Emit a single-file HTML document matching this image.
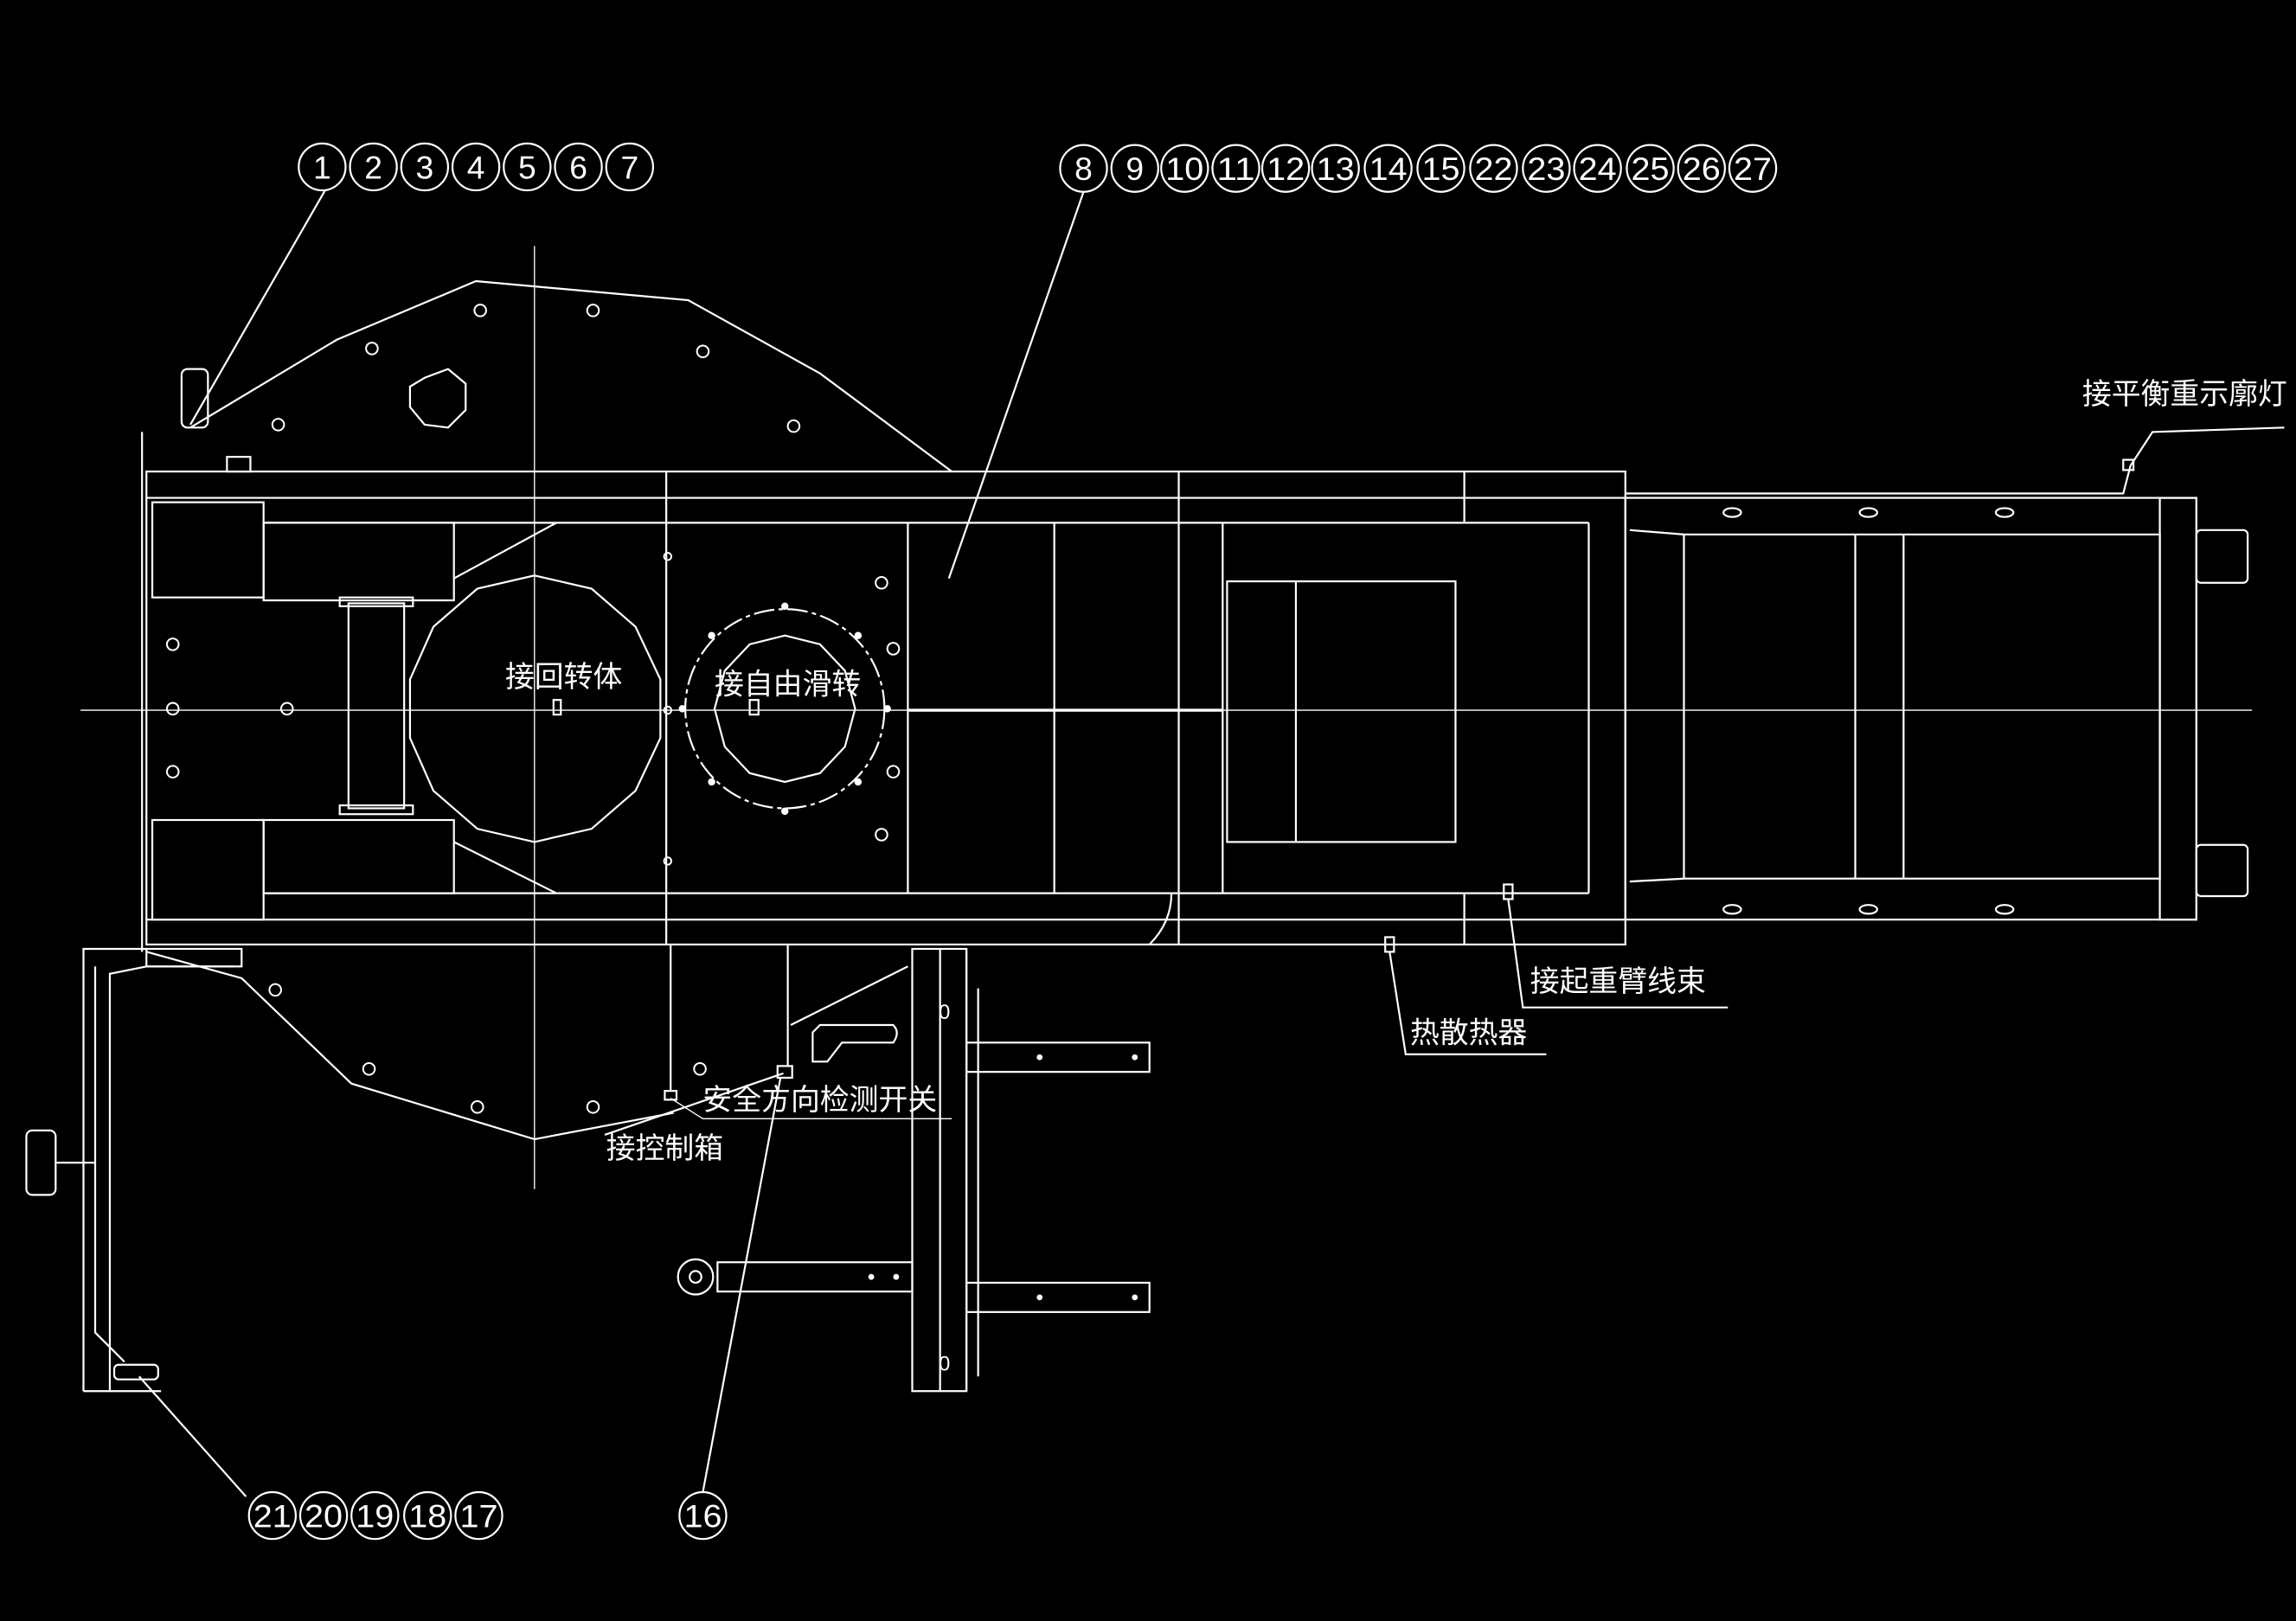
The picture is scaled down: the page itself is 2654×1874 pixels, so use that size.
<!DOCTYPE html>
<html><head><meta charset="utf-8">
<style>
html,body{margin:0;padding:0;background:#000;width:2654px;height:1874px;overflow:hidden}
svg{display:block}
text{font-family:"Liberation Sans","Noto Sans CJK SC",sans-serif;fill:#fff}
</style></head><body>
<svg width="2654" height="1874" viewBox="0 0 1568 1107" preserveAspectRatio="none" xmlns="http://www.w3.org/2000/svg">
<rect width="1568" height="1107" fill="#000"/>
<g fill="none" stroke="#fff" stroke-width="1.3">
<!-- center lines -->
<line x1="55" y1="485" x2="1538" y2="485" stroke-width="0.8"/>
<line x1="365" y1="168" x2="365" y2="812" stroke-width="0.8"/>
<!-- top plate -->
<polyline points="130,292 230,232 325,192 470,205 560,255 650,322"/>
<!-- bottom plate -->
<polyline points="100,650 165,668 240,740 365,778 460,760"/>
<!-- main frame -->
<rect x="100" y="322" width="1010" height="323"/>
<line x1="100" y1="340" x2="1110" y2="340"/>
<line x1="180" y1="357" x2="1085" y2="357"/>
<line x1="180" y1="610" x2="1085" y2="610"/>
<line x1="100" y1="628" x2="1110" y2="628"/>
<line x1="455" y1="322" x2="455" y2="645"/>
<line x1="620" y1="357" x2="620" y2="610"/>
<line x1="720" y1="357" x2="720" y2="610"/>
<line x1="805" y1="322" x2="805" y2="645"/>
<line x1="835" y1="357" x2="835" y2="610"/>
<line x1="1085" y1="357" x2="1085" y2="610"/>
<line x1="1000" y1="322" x2="1000" y2="357"/>
<line x1="1000" y1="610" x2="1000" y2="645"/>
<line x1="620" y1="485" x2="835" y2="485" stroke-width="2"/>
<!-- left blocks -->
<rect x="104" y="343" width="76" height="65"/>
<rect x="104" y="560" width="76" height="68"/>
<rect x="180" y="357" width="130" height="53"/>
<rect x="180" y="560" width="130" height="50"/>
<rect x="238" y="412" width="38" height="140"/>
<rect x="232" y="408" width="50" height="6"/>
<rect x="232" y="550" width="50" height="6"/>
<line x1="310" y1="395" x2="380" y2="357"/>
<line x1="310" y1="575" x2="380" y2="610"/>
<!-- big polygon -->
<polygon points="365,393 404,402 434,428 451,464 451,504 434,540 404,566 365,575 326,566 296,540 280,504 280,464 296,428 326,402"/>
<!-- hex/oct top -->
<polygon points="290,258 306,252 318,262 318,280 306,292 290,290 280,278 280,264"/>
<!-- swivel rings -->
<circle cx="536" cy="484" r="68" stroke-dasharray="14,3,3,3"/>
<polygon points="536,434 560,440 577,458 584,484 577,510 560,528 536,534 512,528 495,510 488,484 495,458 512,440"/>
<rect x="378" y="478" width="5" height="10"/>
<rect x="512" y="478" width="6" height="10"/>
<!-- inner rect -->
<rect x="838" y="397" width="156" height="178"/>
<line x1="885" y1="397" x2="885" y2="575"/>
<!-- right extension -->
<rect x="1110" y="340" width="390" height="288"/>
<rect x="1150" y="365" width="325" height="235"/>
<line x1="1113" y1="362" x2="1150" y2="365"/><line x1="1113" y1="602" x2="1150" y2="600"/>
<line x1="1267" y1="365" x2="1267" y2="600"/>
<line x1="1300" y1="365" x2="1300" y2="600"/>
<rect x="1475" y="340" width="25" height="288"/>
<rect x="1500" y="362" width="35" height="36" rx="3"/>
<rect x="1500" y="577" width="35" height="35" rx="3"/>
<ellipse cx="1183" cy="350" rx="6" ry="3"/><ellipse cx="1276" cy="350" rx="6" ry="3"/><ellipse cx="1369" cy="350" rx="6" ry="3"/>
<ellipse cx="1183" cy="621" rx="6" ry="3"/><ellipse cx="1276" cy="621" rx="6" ry="3"/><ellipse cx="1369" cy="621" rx="6" ry="3"/>
<!-- cable top right -->
<polyline points="1110,337 1450,337 1455,318 1470,295 1560,292"/>
<rect x="1450" y="314" width="7" height="7"/>
<!-- left post top -->
<rect x="124" y="252" width="18" height="40" rx="4"/>
<line x1="97" y1="295" x2="97" y2="650"/>
<rect x="155" y="312" width="16" height="10"/>
<!-- left bracket -->
<polyline points="57,950 57,648 100,648"/>
<polyline points="75,950 75,665 100,660 160,660"/>
<rect x="100" y="648" width="65" height="12"/>
<rect x="18" y="772" width="20" height="44" rx="4"/>
<line x1="38" y1="794" x2="65" y2="794"/>
<polyline points="65,660 65,910 85,930"/>
<rect x="78" y="932" width="30" height="10" rx="3"/>
<line x1="57" y1="950" x2="110" y2="950"/>
<!-- lower bracket -->
<rect x="623" y="648" width="37" height="302"/>
<line x1="642" y1="648" x2="642" y2="950"/>
<rect x="660" y="712" width="125" height="20"/>
<rect x="660" y="876" width="125" height="20"/>
<rect x="490" y="862" width="133" height="20"/>
<circle cx="475" cy="872" r="12"/><circle cx="475" cy="872" r="4"/>
<line x1="660" y1="648" x2="660" y2="950"/><line x1="668" y1="675" x2="668" y2="940"/>
<path d="M555,705 L560,700 L610,700 Q615,705 610,712 L575,712 L565,725 L555,725 Z"/>
<line x1="540" y1="700" x2="620" y2="660"/>
<line x1="458" y1="645" x2="458" y2="745"/><rect x="454" y="745" width="8" height="6"/>
<line x1="538" y1="645" x2="538" y2="728"/><rect x="531" y="728" width="10" height="8"/>
<!-- small markers -->
<rect x="1027" y="604" width="6" height="10"/>
<rect x="946" y="640" width="6" height="10"/>
<path d="M785,645 Q800,630 800,610" />
<!-- leaders -->
<line x1="222" y1="130" x2="130" y2="290"/>
<line x1="740" y1="131" x2="648" y2="395"/>
<line x1="168" y1="1022" x2="95" y2="940"/>
<line x1="480" y1="1019" x2="533" y2="736"/>
<line x1="413" y1="775" x2="535" y2="733"/>
<polyline points="1030,614 1040,688 1180,688"/>
<polyline points="949,650 960,720 1056,720"/>
<polyline points="458,750 480,764 650,764" stroke-width="0.8"/>
</g>
<!-- holes -->
<g fill="none" stroke="#fff" stroke-width="1.2">
<circle cx="328" cy="212" r="4"/><circle cx="405" cy="212" r="4"/><circle cx="254" cy="238" r="4"/><circle cx="480" cy="240" r="4"/>
<circle cx="190" cy="290" r="4"/><circle cx="542" cy="291" r="4"/>
<circle cx="118" cy="440" r="4"/><circle cx="118" cy="484" r="4"/><circle cx="118" cy="527" r="4"/><circle cx="196" cy="484" r="4"/>
<circle cx="602" cy="398" r="4"/><circle cx="610" cy="443" r="4"/><circle cx="610" cy="527" r="4"/><circle cx="602" cy="570" r="4"/>
<circle cx="188" cy="676" r="4"/><circle cx="252" cy="730" r="4"/><circle cx="326" cy="756" r="4"/><circle cx="405" cy="756" r="4"/><circle cx="478" cy="730" r="4"/>
<circle cx="456" cy="380" r="2.5"/><circle cx="456" cy="485" r="2.5"/><circle cx="456" cy="588" r="2.5"/>
</g>
<g fill="#fff">
<circle cx="536" cy="414" r="2.5"/><circle cx="536" cy="554" r="2.5"/><circle cx="466" cy="484" r="2.5"/><circle cx="606" cy="484" r="2.5"/>
<circle cx="486" cy="434" r="2.5"/><circle cx="586" cy="434" r="2.5"/><circle cx="486" cy="534" r="2.5"/><circle cx="586" cy="534" r="2.5"/>
<circle cx="710" cy="722" r="2"/><circle cx="775" cy="722" r="2"/><circle cx="710" cy="886" r="2"/><circle cx="775" cy="886" r="2"/>
<circle cx="595" cy="872" r="2"/><circle cx="612" cy="872" r="2"/>
</g>
<g font-size="14" text-anchor="middle"><text x="645" y="696">0</text><text x="645" y="936">0</text></g>
<!-- circled numbers -->
<g fill="none" stroke="#fff" stroke-width="1.3">
<circle cx="220" cy="114" r="16"/><circle cx="255" cy="114" r="16"/><circle cx="290" cy="114" r="16"/><circle cx="325" cy="114" r="16"/><circle cx="360" cy="114" r="16"/><circle cx="395" cy="114" r="16"/><circle cx="430" cy="114" r="16"/>
<circle cx="740" cy="115" r="16"/><circle cx="775" cy="115" r="16"/><circle cx="809" cy="115" r="16"/><circle cx="844" cy="115" r="16"/><circle cx="878" cy="115" r="16"/><circle cx="912" cy="115" r="16"/><circle cx="948" cy="115" r="16"/><circle cx="984" cy="115" r="16"/><circle cx="1020" cy="115" r="16"/><circle cx="1056" cy="115" r="16"/><circle cx="1091" cy="115" r="16"/><circle cx="1127" cy="115" r="16"/><circle cx="1162" cy="115" r="16"/><circle cx="1197" cy="115" r="16"/>
<circle cx="186" cy="1035" r="16"/><circle cx="221" cy="1035" r="16"/><circle cx="256" cy="1035" r="16"/><circle cx="292" cy="1035" r="16"/><circle cx="327" cy="1035" r="16"/>
<circle cx="480" cy="1035" r="16"/>
</g>
<g font-size="22" text-anchor="middle">
<text x="220" y="122">1</text><text x="255" y="122">2</text><text x="290" y="122">3</text><text x="325" y="122">4</text><text x="360" y="122">5</text><text x="395" y="122">6</text><text x="430" y="122">7</text>
<text x="740" y="123">8</text><text x="775" y="123">9</text>
<g textLength="26" lengthAdjust="spacingAndGlyphs">
<text x="809" y="123" textLength="26" lengthAdjust="spacingAndGlyphs">10</text><text x="844" y="123" textLength="26" lengthAdjust="spacingAndGlyphs">11</text><text x="878" y="123" textLength="26" lengthAdjust="spacingAndGlyphs">12</text><text x="912" y="123" textLength="26" lengthAdjust="spacingAndGlyphs">13</text><text x="948" y="123" textLength="26" lengthAdjust="spacingAndGlyphs">14</text><text x="984" y="123" textLength="26" lengthAdjust="spacingAndGlyphs">15</text><text x="1020" y="123" textLength="26" lengthAdjust="spacingAndGlyphs">22</text><text x="1056" y="123" textLength="26" lengthAdjust="spacingAndGlyphs">23</text><text x="1091" y="123" textLength="26" lengthAdjust="spacingAndGlyphs">24</text><text x="1127" y="123" textLength="26" lengthAdjust="spacingAndGlyphs">25</text><text x="1162" y="123" textLength="26" lengthAdjust="spacingAndGlyphs">26</text><text x="1197" y="123" textLength="26" lengthAdjust="spacingAndGlyphs">27</text>
<text x="186" y="1043" textLength="26" lengthAdjust="spacingAndGlyphs">21</text><text x="221" y="1043" textLength="26" lengthAdjust="spacingAndGlyphs">20</text><text x="256" y="1043" textLength="26" lengthAdjust="spacingAndGlyphs">19</text><text x="292" y="1043" textLength="26" lengthAdjust="spacingAndGlyphs">18</text><text x="327" y="1043" textLength="26" lengthAdjust="spacingAndGlyphs">17</text><text x="480" y="1043" textLength="26" lengthAdjust="spacingAndGlyphs">16</text>
</g>
</g>
<!-- labels -->
<g font-size="20">
<text x="345" y="469">接回转体</text>
<text x="488" y="474">接自由滑转</text>
<text x="480" y="758">安全方向检测开关</text>
<text x="414" y="791">接控制箱</text>
<text x="963" y="712">热散热器</text>
<text x="1045" y="677">接起重臂线束</text>
<text x="1422" y="276">接平衡重示廓灯</text>
</g>
</svg>
</body></html>
